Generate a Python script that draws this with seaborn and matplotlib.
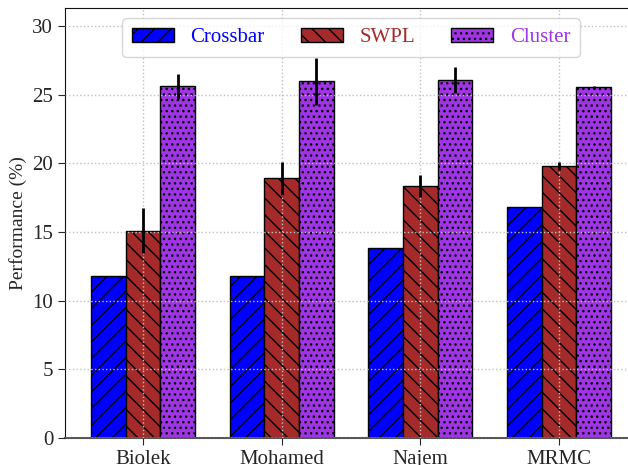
import numpy as np
import pandas as pd
import matplotlib
matplotlib.use("Agg")
import matplotlib.pyplot as plt
import seaborn as sns

# Data
devices = ["Biolek", "Mohamed", "Najem", "MRMC"]
methods = ["Crossbar", "SWPL", "Cluster"]
crossbar = [11.8, 11.8, 13.8, 16.8]
swpl = [15.1, 18.9, 18.35, 19.8]
cluster = [25.6, 25.95, 26.05, 25.55]
crossbar_err = [0.0, 0.0, 0.0, 0.0]
swpl_err = [1.65, 1.2, 0.8, 0.3]
cluster_err = [0.9, 1.7, 0.97, 0.05]

colors = ["#0000ff", "#a52a2a", "#a035e5"]
hatches = ["//", "\\\\", "..."]

values = [crossbar, swpl, cluster]
errors = [crossbar_err, swpl_err, cluster_err]

df = pd.DataFrame({
    "Device": np.tile(devices, len(methods)),
    "Method": np.repeat(methods, len(devices)),
    "Performance": np.concatenate(values),
})

sns.set_style("ticks")
plt.rcParams["font.family"] = ["Liberation Serif", "DejaVu Serif"]
plt.rcParams["hatch.linewidth"] = 1.0

fig = plt.figure(figsize=(6.28, 4.65), dpi=100)
ax = fig.add_axes([65 / 628, 27 / 465, 572 / 628, 430 / 465])

sns.barplot(data=df, x="Device", y="Performance", hue="Method",
            order=devices, hue_order=methods, palette=colors,
            saturation=1, width=0.75, errorbar=None,
            edgecolor="black", linewidth=1.0, ax=ax)

# Hatching and error bars on each container
for cont, hatch, color, err in zip(ax.containers, hatches, colors, errors):
    xs, ys = [], []
    for bar in cont:
        bar.set_hatch(hatch)
        bar.set_edgecolor("black")
        xs.append(bar.get_x() + bar.get_width() / 2)
        ys.append(bar.get_height())
    ax.errorbar(xs, ys, yerr=err, fmt="none", ecolor="black",
                elinewidth=2.0, capsize=0, zorder=5)

ax.set_xlim(-0.5625, 3.5625)
ax.set_ylim(0, 31.3)
ax.set_yticks([0, 5, 10, 15, 20, 25, 30])
ax.set_xlabel("")
ax.set_ylabel("Performance (%)", fontsize=14)
ax.tick_params(axis="both", labelsize=15, direction="out", length=5)

ax.set_axisbelow(False)
ax.grid(True, axis="both", linestyle=":", color="#c0c0c0", linewidth=1.0)

for side in ["left", "bottom", "top", "right"]:
    ax.spines[side].set_visible(True)
    ax.spines[side].set_color("#111111")
ax.spines["bottom"].set_color("#555555")
ax.spines["bottom"].set_linewidth(1.5)

handles, labels = ax.get_legend_handles_labels()
leg = ax.legend(handles, labels, loc="upper center", ncol=3,
                prop={"family": ["Liberation Serif"], "size": 15},
                frameon=True, handlelength=2.0, handleheight=0.7,
                columnspacing=1.75, handletextpad=0.8, borderaxespad=0.5,
                borderpad=0.45, fancybox=True)
leg.get_frame().set_edgecolor("#cccccc")
for txt, c in zip(leg.get_texts(), colors):
    txt.set_color(c)
for h, hatch in zip(leg.legend_handles, hatches):
    h.set_hatch(hatch)
    h.set_edgecolor("black")

fig.savefig("out.png", dpi=100)
